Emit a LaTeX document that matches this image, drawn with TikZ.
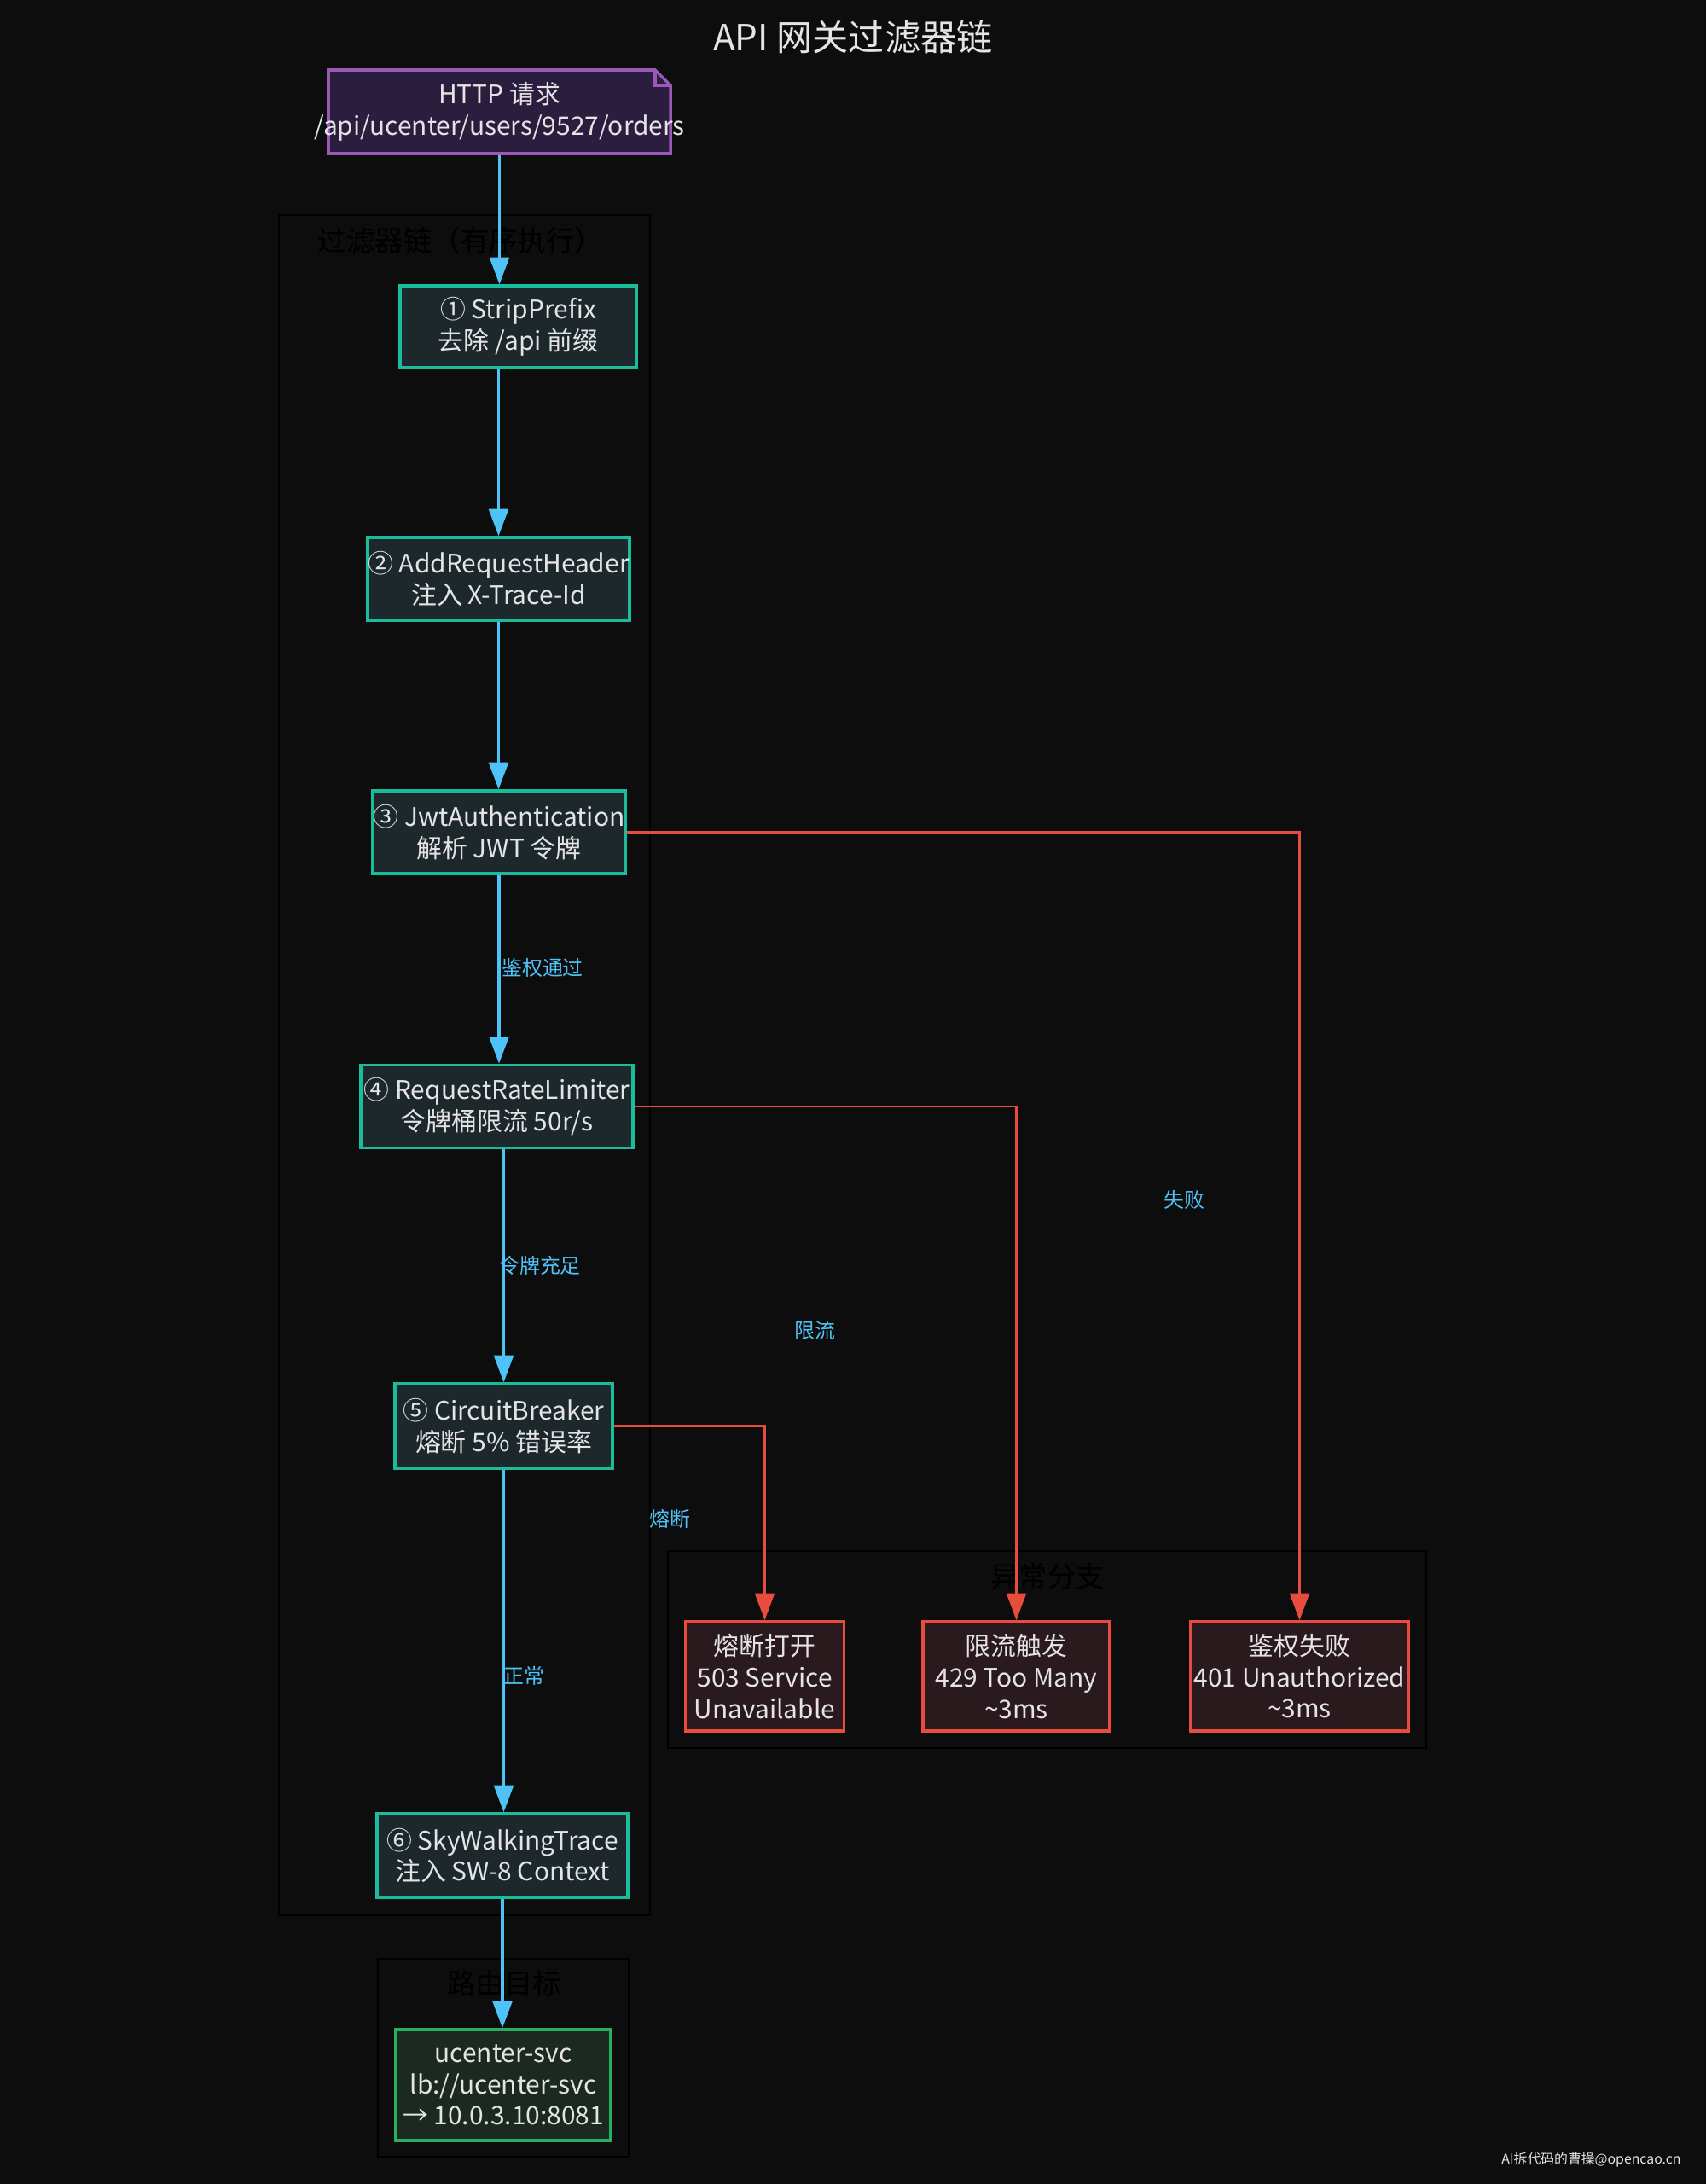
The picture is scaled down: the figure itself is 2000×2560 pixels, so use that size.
\documentclass[tikz,border=0pt]{standalone}
\usepackage{fontspec}
\setmainfont{Noto Sans CJK SC}
\usetikzlibrary{arrows.meta}

\definecolor{bgdark}{HTML}{0D0D0D}
\definecolor{txtlight}{HTML}{E4E4E4}
\definecolor{flowblue}{HTML}{4FC3F7}
\definecolor{errred}{HTML}{E74C3C}
\definecolor{filterfill}{HTML}{1C282C}
\definecolor{filterline}{HTML}{1ABC9C}
\definecolor{errfill}{HTML}{2A191D}
\definecolor{reqfill}{HTML}{2B1D3E}
\definecolor{reqline}{HTML}{9B59B6}
\definecolor{svcfill}{HTML}{1B2921}
\definecolor{svcline}{HTML}{27AE60}

\pgfdeclarelayer{back}
\pgfsetlayers{back,main}

\tikzset{
    box/.style={line width=1pt, text=txtlight, align=center, inner sep=0pt,
        font=\fontsize{8.5}{10.4}\selectfont},
    filterbox/.style={box, draw=filterline, fill=filterfill},
    errbox/.style={box, draw=errred, fill=errfill},
    svcbox/.style={box, draw=svcline, fill=svcfill},
    cluster/.style={draw=black, line width=0.7pt},
    clusterlabel/.style={text=black, font=\fontsize{9.5}{11}\selectfont},
    flow/.style={draw=flowblue, line width=0.9pt, -{Triangle[length=9pt,width=6.5pt]}},
    fail/.style={draw=errred, line width=0.8pt, -{Triangle[length=9pt,width=6.5pt]}},
    edgelabel/.style={text=flowblue, font=\fontsize{6.8}{8}\selectfont},
}

\begin{document}
\begin{tikzpicture}[x=0.01cm, y=-0.01cm]

    \begin{pgfonlayer}{back}
        \fill[bgdark] (0,0) rectangle (2000,2560);
        % request note shape
        \draw[reqline, fill=reqfill, line width=1pt]
            (385,82) -- (768,82) -- (786,100) -- (786,180) -- (385,180) -- cycle;
        \draw[reqline, line width=1pt] (768,82) -- (768,100) -- (786,100);
    \end{pgfonlayer}

    \useasboundingbox (0,0) rectangle (2000,2560);

    % clusters
    \draw[cluster] (327,252) rectangle (762,2245);
    \node[clusterlabel] (chainlbl) at (540,282) {过滤器链（有序执行）};
    \draw[cluster] (783,1818) rectangle (1672,2049);
    \node[clusterlabel] (errlbl) at (1228,1848) {异常分支};
    \draw[cluster] (443,2296) rectangle (737,2528);
    \node[clusterlabel] (routelbl) at (591,2325) {路由目标};

    \node[text=txtlight, font=\fontsize{12}{14}\selectfont] (title) at (1000,44) {API 网关过滤器链};

    \node[box, minimum width=4.01cm, minimum height=0.98cm] (req) at (585.5,131)
        {HTTP 请求\\\makebox[0pt]{/api/ucenter/users/9527/orders}};

    \node[filterbox, minimum width=2.77cm, minimum height=0.96cm] (strip) at (607.5,383)
        {① StripPrefix\\去除 /api 前缀};
    \node[filterbox, minimum width=3.07cm, minimum height=0.97cm] (addhdr) at (584.5,678.5)
        {② AddRequestHeader\\注入 X-Trace-Id};
    \node[filterbox, minimum width=2.97cm, minimum height=0.97cm] (jwt) at (585,975.5)
        {③ JwtAuthentication\\解析 JWT 令牌};
    \node[filterbox, minimum width=3.19cm, minimum height=0.97cm] (limiter) at (582.5,1297)
        {④ RequestRateLimiter\\令牌桶限流 50r/s};
    \node[filterbox, minimum width=2.55cm, minimum height=0.99cm] (breaker) at (590.5,1671.5)
        {⑤ CircuitBreaker\\熔断 5\% 错误率};
    \node[filterbox, minimum width=2.94cm, minimum height=0.98cm] (trace) at (589,2175)
        {⑥ SkyWalkingTrace\\注入 SW-8 Context};

    \node[svcbox, minimum width=2.52cm, minimum height=1.30cm] (svc) at (590,2444)
        {ucenter-svc\\lb://ucenter-svc\\→ 10.0.3.10:8081};

    \node[errbox, minimum width=1.86cm, minimum height=1.28cm] (cbopen) at (896.5,1965)
        {熔断打开\\503 Service\\Unavailable};
    \node[errbox, minimum width=2.19cm, minimum height=1.28cm] (ratehit) at (1191.5,1965)
        {限流触发\\429 Too Many\\\textasciitilde 3ms};
    \node[errbox, minimum width=2.55cm, minimum height=1.28cm] (authfail) at (1523.5,1965)
        {鉴权失败\\401 Unauthorized\\\textasciitilde 3ms};

    % main flow
    \draw[flow] (req.south) -- (req.south |- strip.north);
    \draw[flow] (addhdr.north |- strip.south) -- (addhdr.north);
    \draw[flow] (addhdr.south) -- (addhdr.south |- jwt.north);
    \draw[flow] (jwt.south) -- (jwt.south |- limiter.north);
    \draw[flow] (breaker.north |- limiter.south) -- (breaker.north);
    \draw[flow] (breaker.south) -- (breaker.south |- trace.north);
    \draw[flow] (trace.south) -- (trace.south |- svc.north);

    % exception branches
    \draw[fail] (jwt.east) -| (authfail.north);
    \draw[fail] (limiter.east) -| (ratehit.north);
    \draw[fail] (breaker.east) -| (cbopen.north);

    \node[edgelabel] (passlbl) at (636,1134) {鉴权通过};
    \node[edgelabel] (tokenlbl) at (633,1483) {令牌充足};
    \node[edgelabel] (normallbl) at (614,1964) {正常};
    \node[edgelabel] (faillbl) at (1388,1406) {失败};
    \node[edgelabel] (limitlbl) at (955,1559) {限流};
    \node[edgelabel] (fuselbl) at (785,1780) {熔断};

    \node[text=txtlight, font=\fontsize{4.5}{6}\selectfont, anchor=east] (mark) at (1983,2532)
        {AI拆代码的曹操@opencao.cn};

\end{tikzpicture}
\end{document}
